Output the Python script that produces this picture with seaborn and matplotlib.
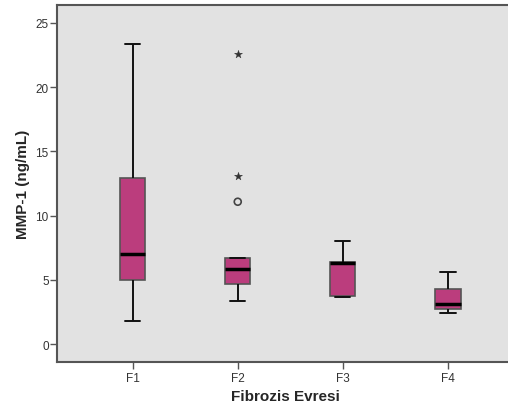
import numpy as np
import pandas as pd
import matplotlib
matplotlib.use("Agg")
import matplotlib.pyplot as plt
import seaborn as sns

categories = ["F1", "F2", "F3", "F4"]
f1 = [1.8, 3.9, 5.0, 6.2, 7.0, 9.5, 12.9, 16.8, 23.4]
f2 = [3.33, 4.1, 4.4, 4.65, 5.2, 5.6, 5.87, 6.1, 6.4, 6.72, 11.08, 13.06, 22.6]
f3 = [3.66, 3.76, 6.3, 6.42, 8.02]
f4 = [2.44, 2.73, 3.09, 4.28, 5.58]
yticks = [0, 5, 10, 15, 20, 25]

rows = []
for c, vals in zip(categories, [f1, f2, f3, f4]):
    for v in vals:
        rows.append({"stage": c, "value": v})
df = pd.DataFrame(rows)

# classify outliers SPSS-style
flags = []
for c in categories:
    v = df.loc[df.stage == c, "value"]
    q1, q3 = np.percentile(v, [25, 75])
    iqr = q3 - q1
    for x in v:
        if x > q3 + 3 * iqr or x < q1 - 3 * iqr:
            flags.append("extreme")
        elif x > q3 + 1.5 * iqr or x < q1 - 1.5 * iqr:
            flags.append("mild")
        else:
            flags.append("in")
df["flag"] = flags

sns.set_style("white")
plt.rcParams["font.family"] = ["Liberation Sans", "DejaVu Sans"]

fig = plt.figure(figsize=(5.08, 4.14), dpi=100)
ax = fig.add_axes([57 / 508, 51 / 414, 1 - 57 / 508 + 0.01, (363 - 6) / 414])
ax.set_facecolor("#e2e2e2")

sns.boxplot(data=df, x="stage", y="value", order=categories, ax=ax,
            width=0.24, showfliers=False, color="#bb3d7d", saturation=1,
            linecolor="#222222", linewidth=1.2, capwidths=0.145,
            boxprops=dict(edgecolor="#555555", linewidth=1.2),
            medianprops=dict(color="#000000", linewidth=2.5),
            whiskerprops=dict(color="#111111", linewidth=1.4),
            capprops=dict(color="#111111", linewidth=1.4))

ext = df[df.flag == "extreme"]
mild = df[df.flag == "mild"]
sns.stripplot(data=ext, x="stage", y="value", order=categories, ax=ax,
              jitter=False, marker="*", size=6, color="#333333",
              linewidth=0.3, edgecolor="#333333")
sns.stripplot(data=mild, x="stage", y="value", order=categories, ax=ax,
              jitter=False, marker="o", size=5, color="#333333",
              facecolor="none", linewidth=1.2, edgecolor="#444444")

ax.set_xlim(-0.72, 3.62)
ax.set_ylim(-1.4, 26.4)
ax.set_yticks(yticks)
ax.set_yticklabels([str(t) for t in yticks])

for s in ["left", "bottom", "top"]:
    ax.spines[s].set_visible(True)
    ax.spines[s].set_color("#555555")
    ax.spines[s].set_linewidth(1.5)
ax.spines["right"].set_visible(False)

ax.tick_params(axis="both", which="both", length=5, width=1, color="#555555",
               labelsize=8.5, labelcolor="#333333", direction="out",
               bottom=True, left=True)
ax.tick_params(axis="y", pad=1)
ax.tick_params(axis="x", pad=2)
ax.set_xlabel("Fibrozis Evresi", fontsize=11, fontweight="bold", labelpad=4)
ax.set_ylabel("MMP-1 (ng/mL)", fontsize=11, fontweight="bold", labelpad=4)

fig.savefig("out.png", dpi=100, facecolor="white")
